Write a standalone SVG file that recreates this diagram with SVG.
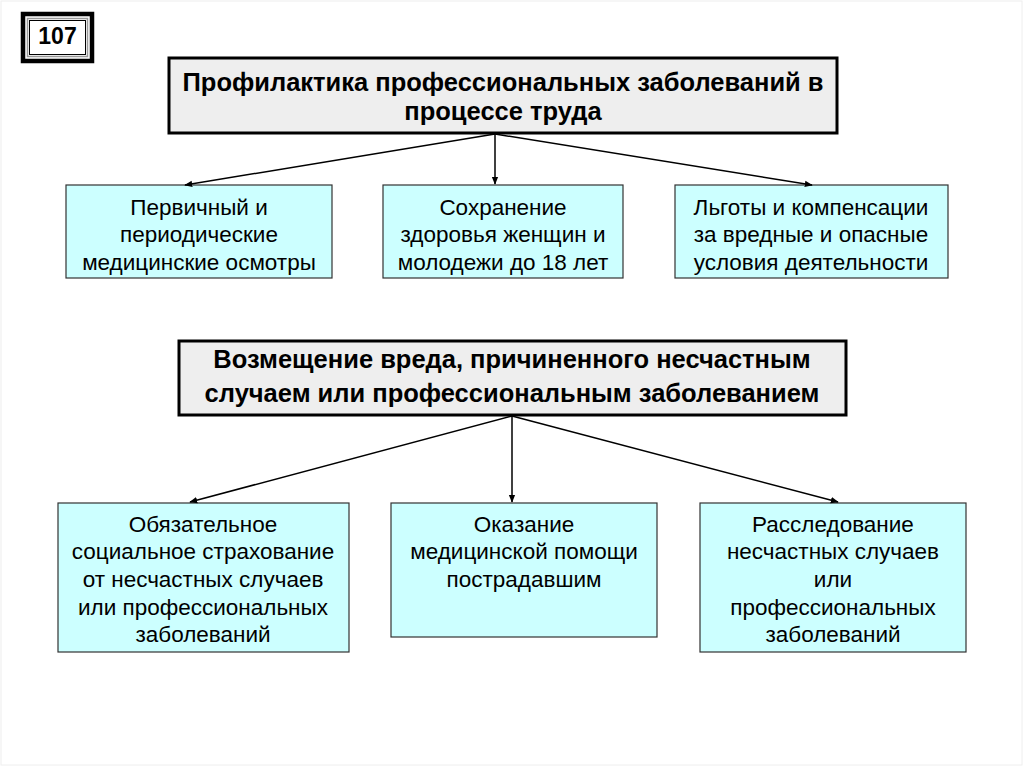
<svg xmlns="http://www.w3.org/2000/svg" width="1024" height="767" viewBox="0 0 1024 767">
<defs>
<marker id="ah" viewBox="0 0 10 10" refX="9" refY="5" markerWidth="8" markerHeight="8" orient="auto" markerUnits="userSpaceOnUse">
<path d="M0,1 L10,5 L0,9 Z" fill="#000"/>
</marker>
</defs>
<style>
.head{fill:#eeeeee;stroke:#000;stroke-width:3}
.leaf{fill:#ccffff;stroke:#333;stroke-width:1.2}
.ht{font-family:"Liberation Sans",Arial,sans-serif;font-weight:bold;font-size:25.5px;fill:#000;text-anchor:middle}
.lt{font-family:"Liberation Sans",Arial,sans-serif;font-size:22.5px;fill:#000;text-anchor:middle}
.conn line{stroke:#000;stroke-width:1.5;marker-end:url(#ah)}
</style>
<rect x="0" y="0" width="1024" height="767" fill="#fff"/>
<rect x="1" y="1" width="1021" height="764" fill="none" stroke="#eeeeee" stroke-width="1"/>
<g id="badge">
<rect x="23" y="14" width="69" height="47" fill="#fff" stroke="#000" stroke-width="4.5"/>
<rect x="27.5" y="18.5" width="60" height="38" fill="none" stroke="#999" stroke-width="1.5"/>
<rect x="29.5" y="20.5" width="56" height="34" fill="#fff" stroke="#000" stroke-width="1"/>
<text x="57.5" y="44" font-family="Liberation Sans,Arial,sans-serif" font-weight="bold" font-size="23" text-anchor="middle">107</text>
</g>
<g id="n1">
<rect class="head" x="169" y="58" width="668" height="75"/>
<text class="ht" x="503" y="91">Профилактика профессиональных заболеваний в</text>
<text class="ht" x="503" y="120">процессе труда</text>
</g>
<g id="n2">
<rect class="leaf" x="66" y="185" width="266" height="93"/>
<text class="lt" x="199" y="215">Первичный и</text>
<text class="lt" x="199" y="242">периодические</text>
<text class="lt" x="199" y="270">медицинские осмотры</text>
</g>
<g id="n3">
<rect class="leaf" x="383" y="185" width="240" height="93"/>
<text class="lt" x="503" y="215">Сохранение</text>
<text class="lt" x="503" y="242">здоровья женщин и</text>
<text class="lt" x="503" y="270">молодежи до 18 лет</text>
</g>
<g id="n4">
<rect class="leaf" x="675" y="185" width="273" height="93"/>
<text class="lt" x="811" y="215">Льготы и компенсации</text>
<text class="lt" x="811" y="242">за вредные и опасные</text>
<text class="lt" x="811" y="270">условия деятельности</text>
</g>
<g id="n5">
<rect class="head" x="179" y="341" width="667" height="74"/>
<text class="ht" x="512" y="368">Возмещение вреда, причиненного несчастным</text>
<text class="ht" x="512" y="402">случаем или профессиональным заболеванием</text>
</g>
<g id="n6">
<rect class="leaf" x="58" y="503" width="291" height="149"/>
<text class="lt" x="203" y="532">Обязательное</text>
<text class="lt" x="203" y="559">социальное страхование</text>
<text class="lt" x="203" y="587">от несчастных случаев</text>
<text class="lt" x="203" y="615">или профессиональных</text>
<text class="lt" x="203" y="642">заболеваний</text>
</g>
<g id="n7">
<rect class="leaf" x="391" y="503" width="266" height="134"/>
<text class="lt" x="524" y="532">Оказание</text>
<text class="lt" x="524" y="559">медицинской помощи</text>
<text class="lt" x="524" y="587">пострадавшим</text>
</g>
<g id="n8">
<rect class="leaf" x="700" y="503" width="266" height="149"/>
<text class="lt" x="833" y="532">Расследование</text>
<text class="lt" x="833" y="559">несчастных случаев</text>
<text class="lt" x="833" y="587">или</text>
<text class="lt" x="833" y="615">профессиональных</text>
<text class="lt" x="833" y="642">заболеваний</text>
</g>
<g class="conn" id="connectors">
<line x1="495" y1="134" x2="185" y2="185"/>
<line x1="495" y1="134" x2="495" y2="184"/>
<line x1="495" y1="134" x2="812" y2="185"/>
<line x1="512" y1="416" x2="190" y2="502"/>
<line x1="512" y1="416" x2="512" y2="502"/>
<line x1="512" y1="416" x2="838" y2="502"/>
</g>
</svg>
